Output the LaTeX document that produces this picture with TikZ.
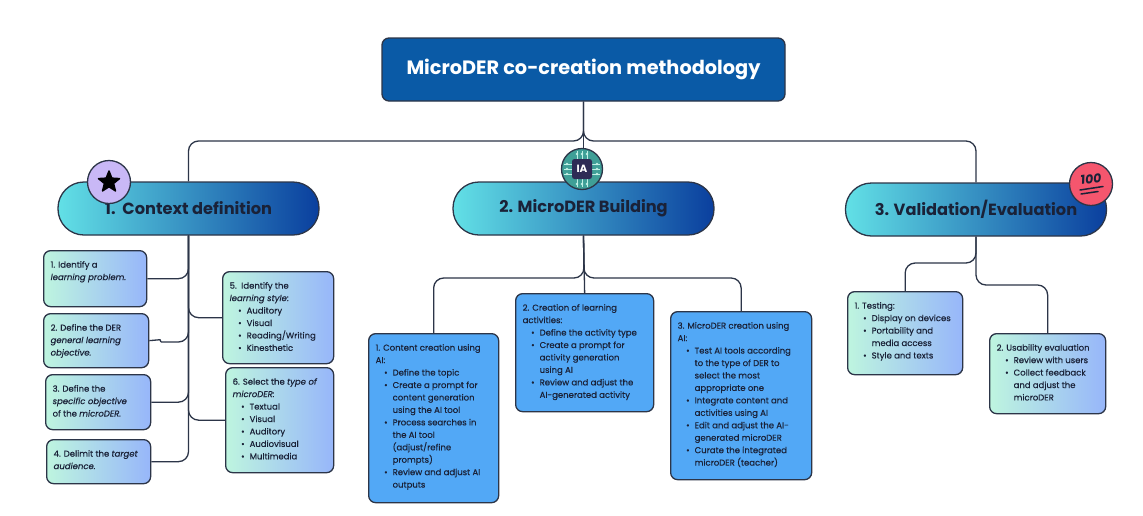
\documentclass[tikz,border=0pt]{standalone}
\usepackage{fontspec}
\setmainfont{Poppins}
\newfontfamily\bodyf{Poppins}[FakeBold=0.35]
\usetikzlibrary{shapes.geometric}
\definecolor{ink}{HTML}{1A2238}
\definecolor{edge}{HTML}{2C3548}
\definecolor{rootblue}{HTML}{0A5AA6}
\definecolor{pillL}{HTML}{62E0E6}
\definecolor{pillM}{HTML}{2B8CBF}
\definecolor{pillR}{HTML}{0A3F9E}
\definecolor{softL}{HTML}{BEF5DF}
\definecolor{softM}{HTML}{B0D4EE}
\definecolor{softR}{HTML}{97B6FA}
\definecolor{skyfill}{HTML}{52A8F6}
\definecolor{lavender}{HTML}{C9B8F6}
\definecolor{chipteal}{HTML}{3F9F97}
\definecolor{chipdark}{HTML}{2E2B55}
\definecolor{chipline}{HTML}{BFEFE4}
\definecolor{hundred}{HTML}{F5566E}
\tikzset{
  boxbase/.style={draw=edge,line width=1.3pt,rounded corners=7pt,inner sep=0pt,anchor=north west,text=ink},
  softbox/.style={boxbase,left color=softL,middle color=softM,right color=softR},
  skybox/.style={boxbase,fill=skyfill},
  rootbox/.style={draw=edge,line width=1.3pt,rounded corners=7pt,fill=rootblue,text=white,font=\fontsize{19.3}{23}\selectfont\bfseries,minimum width=403pt,minimum height=63pt},
  pill/.style={draw=edge,line width=1.3pt,rounded corners=26pt,left color=pillL,middle color=pillM,right color=pillR,text=ink,font=\fontsize{16.2}{20}\selectfont\bfseries,minimum width=261pt,minimum height=53pt},
  conn/.style={draw=edge,line width=1.3pt,rounded corners=10pt},
  badge/.style={circle,draw=edge,line width=1.3pt,minimum size=43pt,inner sep=0pt},
  chipwire/.style={draw=chipline,line width=0.7pt},
}
\newcommand{\itm}[1]{\par{\leftskip=24pt\noindent\llap{\textbullet\hspace{5pt}}#1\par}}
\newcommand{\cbox}[7]{%
  \pgfmathsetmacro\bw{#5-#3}\pgfmathsetmacro\bh{#6-#4}%
  \node[#1,minimum width=\bw pt,minimum height=\bh pt] (#2) at (#3,#4)
   {\parbox[c][\bh pt][t]{\bw pt}{\bodyf\fontsize{8.5}{12.45}\selectfont\raggedright\leftskip=7pt\parindent=0pt\parskip=0pt\rule{0pt}{17pt}#7}};}
\begin{document}
\begin{tikzpicture}[x=1pt,y=-1pt]
\useasboundingbox[fill=white] (0,0) rectangle (1143,515);
% main nodes
\node[rootbox] (root) at (583.5,69.5) {MicroDER co-creation methodology};
\node[pill] (P1) at (188.5,208.5) {1.~~Context definition};
\node[pill] (P2) at (583.5,208.5) {2. MicroDER Building};
\node[pill] (P3) at (976,209.5) {3. Validation/Evaluation};
% first group
\cbox{softbox}{L1}{43}{250}{146}{306}{1. Identify a\\\textit{learning problem.}}
\cbox{softbox}{L2}{43}{313}{148}{367}{2. Define the DER\\\textit{general learning}\\\textit{objective.}}
\cbox{softbox}{L3}{45}{374}{150}{429}{3. Define the\\\textit{specific objective}\\of the \textit{microDER.}}
\cbox{softbox}{L4}{46}{439}{150}{483}{4. Delimit the \textit{target}\\\textit{audience.}}
\cbox{softbox}{L5}{222}{271}{333}{363}{5.~~Identify the\\\textit{learning style}:\itm{Auditory}\itm{Visual}\itm{Reading/Writing}\itm{Kinesthetic}}
\cbox{softbox}{L6}{225}{367}{333}{472}{6. Select the \textit{type of}\\\textit{microDER:}\itm{Textual}\itm{Visual}\itm{Auditory}\itm{Audiovisual}\itm{Multimedia}}
% second group
\cbox{skybox}{M1}{368}{333}{498}{502}{1. Content creation using\\AI:\itm{Define the topic}\itm{Create a prompt for\\content generation\\using the AI tool}\itm{Process searches in\\the AI tool\\(adjust/refine\\prompts)}\itm{Review and adjust AI\\outputs}}
\cbox{skybox}{M2}{515}{293}{653}{411}{2. Creation of learning\\activities:\itm{Define the activity type}\itm{Create a prompt for\\activity generation\\using AI}\itm{Review and adjust the\\AI-generated activity}}
\cbox{skybox}{M3}{670}{311}{811}{479}{3. MicroDER creation using\\AI:\itm{Test AI tools according\\to the type of DER to\\select the most\\appropriate one}\itm{Integrate content and\\activities using AI}\itm{Edit and adjust the AI-\\generated microDER}\itm{Curate the integrated\\microDER (teacher)}}
% third group
\cbox{softbox}{R1}{847}{291}{962}{374}{1. Testing:\itm{Display on devices}\itm{Portability and\\media access}\itm{Style and texts}}
\cbox{softbox}{R2}{989}{333}{1105}{413}{2. Usability evaluation\itm{Review with users}\itm{Collect feedback\\and adjust the\\microDER}}
% junction coordinates
\coordinate (busTop) at (583.5,141);
\coordinate (busMid) at (584,278);
\coordinate (busR1) at (976,263);
\coordinate (busR2) at (976,285);
\coordinate (jog) at (161,342);
% connectors
\draw[conn] (root.south) -- (busTop) -- (busTop -| P1.north) -- (P1.north);
\draw[conn] (root.south) -- (busTop) -- (busTop -| P3.north) -- (P3.north);
\draw[conn] (root.south) -- (P2.north);
\draw[conn] (P1.south) -- (P1.south |- L1.east) -- (L1.east);
\draw[conn] (P1.south) -- (P1.south |- jog) -- (jog);
\draw[draw=edge,line width=1.3pt] (jog) -- (160,339.7) -- (L2.east);
\draw[conn] (P1.south) -- (P1.south |- L3.east) -- (L3.east);
\draw[conn] (P1.south) -- (P1.south |- L4.east) -- (L4.east);
\draw[conn] (P1.south) -- (P1.south |- L5.west) -- (L5.west);
\draw[conn] (P1.south) -- (P1.south |- L6.west) -- (L6.west);
\draw[conn] (P2.south) -- (busMid) -- (busMid -| M1.north) -- (M1.north);
\draw[conn] (P2.south) -- (busMid) -- (busMid -| M3.north) -- (M3.north);
\draw[conn] (P2.south) -- (M2.north);
\draw[conn] (P3.south) -- (busR1) -- (busR1 -| R1.north) -- (R1.north);
\draw[conn] (P3.south) -- (busR2) -- (busR2 -| R2.north) -- (R2.north);
% badges
\node[badge,fill=lavender] (bStar) at (109,182) {};
\node[star,star points=5,star point ratio=2.3,fill=black,draw=black,line width=1.5pt,line join=round,minimum size=22pt,inner sep=0pt] (bStarIn) at (109,182) {};
\node[badge,fill=chipteal,minimum size=41pt] (bChip) at (582,169) {};
\foreach \d in {-5,0,5}{
  \draw[chipwire] (582+\d,151) -- (582+\d,187);
  \draw[chipwire] (564,169+\d) -- (600,169+\d);
  \fill[chipline] (582+\d,154) circle (1.3);
  \fill[chipline] (582+\d,184) circle (1.3);
  \fill[chipline] (567,169+\d) circle (1.3);
  \fill[chipline] (597,169+\d) circle (1.3);
}
\node[fill=chipdark,rounded corners=2.5pt,minimum size=20pt,inner sep=0pt,text=white,font=\fontsize{10.5}{12}\selectfont\bfseries] (bChipIn) at (582,169) {IA};
\node[badge,fill=hundred] (bHundred) at (1091,184) {};
\node[text=ink,rotate=8,inner sep=0pt,font=\fontsize{12.5}{14}\selectfont\bfseries\itshape] (bHundredIn) at (1091,179) {100};
\draw[ink,line width=1.5pt,line cap=round] (1080,190) -- (1103,186.5);
\draw[ink,line width=1.5pt,line cap=round] (1081,194) -- (1098,191.5);
\end{tikzpicture}
\end{document}
